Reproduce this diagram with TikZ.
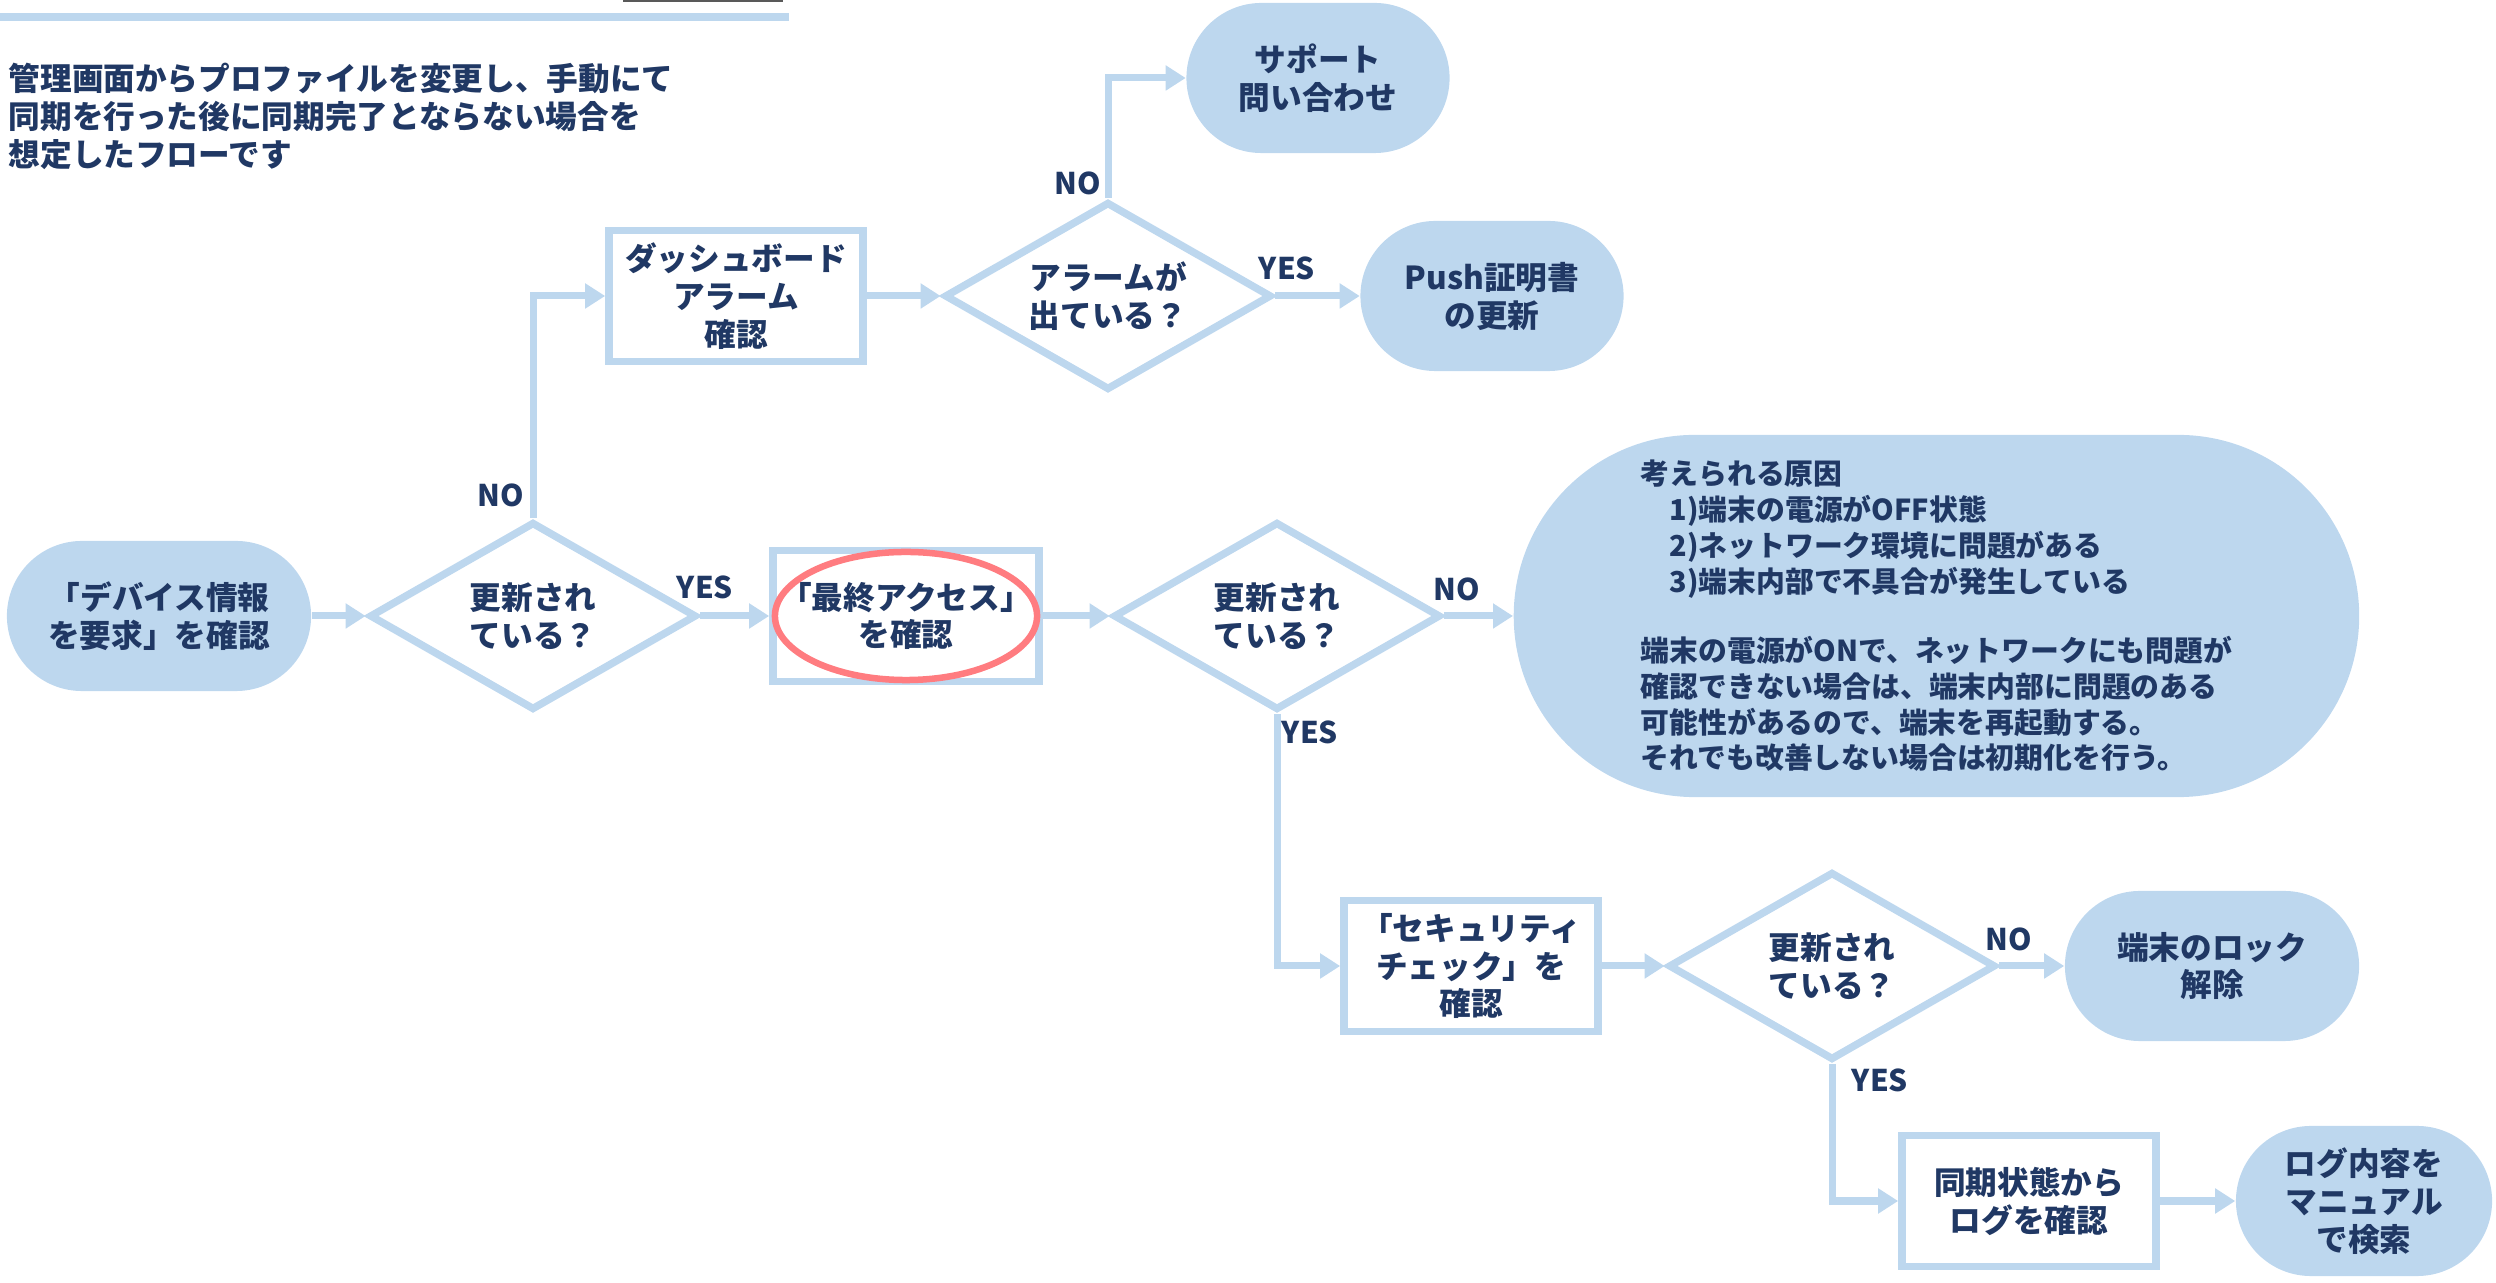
\documentclass[tikz,border=0pt]{standalone}
\usepackage{fontspec}
\setmainfont{Noto Sans CJK JP}
\usepackage{tikz}
\usetikzlibrary{shapes.geometric, shapes.misc, arrows.meta}
\definecolor{lblue}{HTML}{BDD7EE}
\definecolor{navy}{HTML}{203864}
\definecolor{hlred}{HTML}{FF7C80}
\tikzset{
  jptext/.style={font=\bfseries\fontsize{9pt}{10.8pt}\selectfont, text=navy, align=center, inner sep=0pt},
  term/.style={jptext, rounded rectangle, fill=lblue, minimum width=2.63cm, minimum height=1.5cm},
  procbox/.style={jptext, rectangle, draw=lblue, line width=0.075cm, minimum width=2.54cm, minimum height=1.31cm},
  decide/.style={jptext, diamond, aspect=1.7, draw=lblue, line width=0.075cm, minimum width=3.27cm, minimum height=1.88cm},
  arr/.style={draw=lblue, line width=0.07cm, -{Triangle[length=0.2cm,width=0.24cm]}},
  lbl/.style={font=\bfseries\fontsize{8.5pt}{10pt}\selectfont, text=navy, inner sep=0pt}
}
\begin{document}
\begin{tikzpicture}[x=0.01cm,y=-0.01cm]
		\useasboundingbox (0,0) rectangle (2496,1283);
		% header bar
		\fill[lblue] (0,13) rectangle (789,21);
		\fill[black!65] (623,0) rectangle (783,2);
		\node[anchor=north west, align=left, inner sep=0pt, text=navy,
		      font=\bfseries\fontsize{9pt}{10.9pt}\selectfont] (intro) at (8,62)
		      {管理画面からプロファイルを変更し、手動にて\\同期を行った後に同期完了とならない場合を\\想定したフローです};
		
		% row with dashboard
		\node[procbox] (box1) at (736,296) {ダッシュボード\\アラーム\\確認};
		\node[decide] (d4) at (1108,296) {アラームが\\出ている？};
		\node[term] (sup) at (1318,78) {サポート\\問い合わせ};
		\node[term] (push) at (1492,296) {Push証明書\\の更新};
		
		% main row
		\node[term, minimum width=3.04cm] (start) at (159,616) {「デバイス情報\\を要求」を確認};
		\node[decide] (d1) at (533,616) {更新され\\ている？};
		\node[procbox, minimum width=2.66cm] (box2) at (906,616) {「最終アクセス」\\を確認};
		\node[decide] (d2) at (1277,616) {更新され\\ている？};
		\node[term, minimum width=8.45cm, minimum height=3.62cm, align=left, anchor=west,
		      font=\bfseries\fontsize{8.2pt}{10.2pt}\selectfont] (cause) at (1513,616)
		      {考えられる原因\\
		       \quad 1)端末の電源がOFF状態\\
		       \quad 2)ネットワーク環境に問題がある\\
		       \quad 3)端末内部で不具合が発生している\\[0.33cm]
		       端末の電源がONで、ネットワークにも問題が\\
		       確認できない場合は、端末内部に問題のある\\
		       可能性があるので、端末を再起動する。\\
		       それでも改善しない場合は初期化を行う。};
		
		% security row
		\node[procbox] (box3) at (1471,966) {「セキュリティ\\チェック」を\\確認};
		\node[decide] (d3) at (1832,966) {更新され\\ている？};
		\node[term, minimum width=2.94cm] (lock) at (2212,966) {端末のロック\\解除};
		
		% log row
		\node[procbox] (box4) at (2029,1201) {同期状態から\\ログを確認};
		\node[term, minimum width=2.56cm] (fin) at (2364,1201) {ログ内容を\\マニュアル\\で検索};
		
		% highlight
		\draw[hlred, line width=0.065cm] (box2.center) ellipse [x radius=1.31cm, y radius=0.64cm];
		
		% arrows
		\foreach \a/\b in {start/d1, d1/box2, box1/d4, d4/push, box2/d2, d2/cause, box3/d3, d3/lock, box4/fin}{
			\draw[arr] (\a.east) -- (\b.west);
		}
		\draw[arr] (d1.north) |- (box1.west);
		\draw[arr] (d4.north) |- (sup.west);
		\draw[arr] (d2.south) |- (box3.west);
		\draw[arr] (d3.south) |- (box4.west);
		
		% YES / NO
		\node[lbl] (no1) at (501,495) {NO};
		\node[lbl] (yes1) at (705,587) {YES};
		\node[lbl] (no4) at (1078,183) {NO};
		\node[lbl] (yes4) at (1287,268) {YES};
		\node[lbl] (no2) at (1457,589) {NO};
		\node[lbl] (yes2) at (1310,732) {YES};
		\node[lbl] (no3) at (2009,939) {NO};
		\node[lbl] (yes3) at (1880,1080) {YES};
\end{tikzpicture}
\end{document}
